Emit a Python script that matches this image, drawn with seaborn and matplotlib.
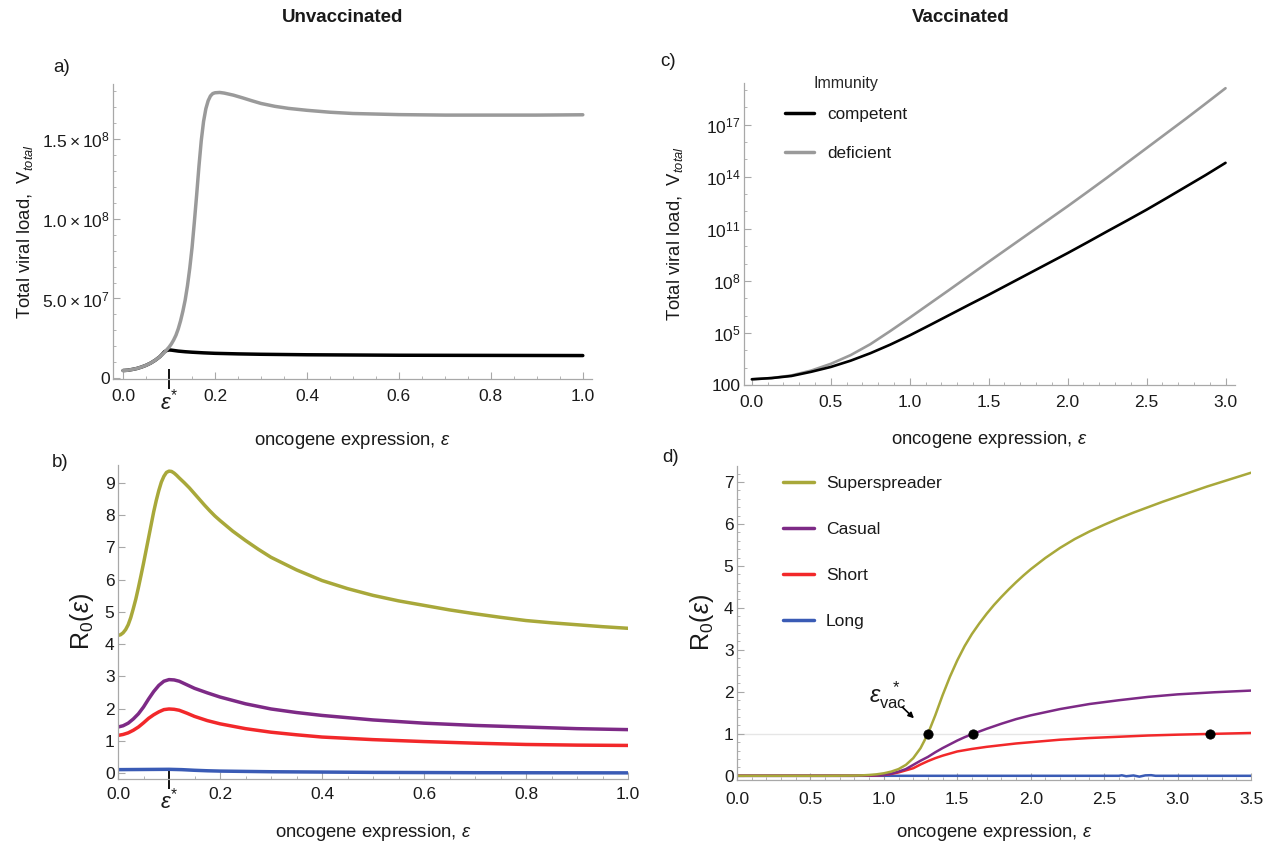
import numpy as np
import matplotlib
matplotlib.use("Agg")
import matplotlib.pyplot as plt
from matplotlib.ticker import FixedLocator, MultipleLocator, FixedFormatter, NullFormatter
from matplotlib.lines import Line2D
import seaborn as sns

# ---------------- data ----------------
# a) unvaccinated total viral load (in millions)
eps_a = [0.0, 0.01, 0.02, 0.03, 0.04, 0.05, 0.06, 0.07, 0.08, 0.085, 0.09, 0.10, 0.105, 0.11,
         0.115, 0.12, 0.125, 0.13, 0.135, 0.14, 0.145, 0.15, 0.155, 0.16, 0.165, 0.17, 0.175,
         0.18, 0.185, 0.19, 0.195, 0.20, 0.21, 0.22, 0.24, 0.26, 0.28, 0.30, 0.33, 0.36, 0.40,
         0.45, 0.50, 0.60, 0.70, 0.80, 0.90, 1.00]
vload_deficient_unvac = [4.8, 5.0, 5.5, 6.1, 7.0, 8.1, 9.5, 11.3, 13.5, 14.8, 16.2, 19.5, 21.5,
                         24, 27, 31, 36, 42, 49, 58, 69, 82, 98, 115, 133, 149, 161, 169, 174,
                         177, 178.5, 179, 179.2, 178.8, 177.5, 175.8, 174, 172.3, 170.5, 169.2,
                         168, 166.8, 166, 165.3, 165, 165, 165, 165.2]
eps_a_comp = [0.0, 0.01, 0.02, 0.03, 0.04, 0.05, 0.06, 0.07, 0.08, 0.085, 0.09, 0.095, 0.10,
              0.105, 0.11, 0.12, 0.135, 0.15, 0.175, 0.20, 0.25, 0.30, 0.40, 0.50, 0.60, 0.80,
              1.00]
vload_competent_unvac = [4.8, 5.0, 5.5, 6.1, 7.0, 8.1, 9.5, 11.3, 13.5, 15.0, 16.6, 17.4, 17.7,
                         17.6, 17.4, 17.0, 16.6, 16.3, 15.9, 15.6, 15.25, 15.0, 14.7, 14.55,
                         14.4, 14.3, 14.2]

# b) unvaccinated R0
eps_b = [0.0, 0.005, 0.01, 0.015, 0.02, 0.025, 0.03, 0.035, 0.04, 0.045, 0.05, 0.055, 0.06,
         0.065, 0.07, 0.075, 0.08, 0.085, 0.09, 0.095, 0.10, 0.105, 0.11, 0.115, 0.12, 0.13,
         0.14, 0.15, 0.16, 0.17, 0.18, 0.19, 0.20, 0.225, 0.25, 0.275, 0.30, 0.35, 0.40, 0.45,
         0.50, 0.55, 0.60, 0.65, 0.70, 0.75, 0.80, 0.85, 0.90, 0.95, 1.00]
r0_superspreader_unvac = [4.27, 4.29, 4.35, 4.45, 4.6, 4.82, 5.1, 5.4, 5.75, 6.12, 6.5, 6.9,
                          7.3, 7.7, 8.1, 8.45, 8.76, 9.02, 9.2, 9.32, 9.36, 9.35, 9.3, 9.23,
                          9.15, 9.0, 8.84, 8.66, 8.48, 8.3, 8.13, 7.97, 7.83, 7.5, 7.21, 6.94,
                          6.69, 6.3, 5.97, 5.72, 5.51, 5.34, 5.2, 5.06, 4.94, 4.83, 4.73, 4.66,
                          4.6, 4.54, 4.49]
eps_b2 = [0.0, 0.01, 0.02, 0.03, 0.04, 0.05, 0.06, 0.07, 0.08, 0.09, 0.10, 0.11, 0.12, 0.135,
          0.15, 0.175, 0.20, 0.25, 0.30, 0.35, 0.40, 0.50, 0.60, 0.70, 0.80, 0.90, 1.00]
r0_casual_unvac = [1.43, 1.47, 1.55, 1.68, 1.84, 2.05, 2.3, 2.53, 2.72, 2.85, 2.9, 2.89, 2.85,
                   2.74, 2.63, 2.49, 2.36, 2.15, 1.99, 1.88, 1.79, 1.65, 1.55, 1.48, 1.43,
                   1.38, 1.35]
r0_short_unvac = [1.17, 1.2, 1.25, 1.33, 1.43, 1.56, 1.7, 1.81, 1.9, 1.97, 1.99, 1.98, 1.95,
                  1.86, 1.76, 1.63, 1.53, 1.38, 1.27, 1.19, 1.12, 1.04, 0.98, 0.93, 0.89,
                  0.87, 0.86]
eps_b_long = [0.0, 0.05, 0.1, 0.125, 0.15, 0.175, 0.2, 0.3, 0.4, 0.5, 0.7, 1.0]
r0_long_unvac = [0.11, 0.115, 0.12, 0.11, 0.09, 0.075, 0.065, 0.045, 0.035, 0.025, 0.015, 0.01]

# c) vaccinated total viral load (log10 values)
eps_c = [0.0, 0.125, 0.25, 0.375, 0.5, 0.625, 0.75, 0.875, 1.0, 1.125, 1.25, 1.375, 1.5,
         1.625, 1.75, 1.875, 2.0, 2.125, 2.25, 2.375, 2.5, 2.625, 2.75, 2.875, 3.0]
log10_vload_competent_vac = [2.33, 2.4, 2.52, 2.76, 3.04, 3.4, 3.83, 4.32, 4.86, 5.44, 6.03,
                             6.62, 7.2, 7.8, 8.4, 9.0, 9.6, 10.22, 10.85, 11.47, 12.1,
                             12.76, 13.43, 14.1, 14.8]
log10_vload_deficient_vac = [2.33, 2.4, 2.55, 2.83, 3.22, 3.72, 4.35, 5.1, 5.88, 6.68, 7.48,
                             8.29, 9.1, 9.9, 10.7, 11.5, 12.3, 13.12, 13.95, 14.8, 15.65,
                             16.5, 17.35, 18.22, 19.1]

# d) vaccinated R0
eps_d_ss = [0.0, 0.6, 0.8, 0.85, 0.9, 0.95, 1.0, 1.05, 1.1, 1.15, 1.2, 1.25, 1.3, 1.35, 1.4,
            1.45, 1.5, 1.55, 1.6, 1.65, 1.7, 1.75, 1.8, 1.85, 1.9, 1.95, 2.0, 2.1, 2.2, 2.3,
            2.4, 2.5, 2.6, 2.7, 2.8, 2.9, 3.0, 3.1, 3.2, 3.3, 3.4, 3.5]
r0_superspreader_vac = [0.0, 0.0, 0.005, 0.01, 0.02, 0.035, 0.06, 0.1, 0.16, 0.26, 0.42, 0.66,
                        1.0, 1.44, 1.92, 2.36, 2.75, 3.09, 3.38, 3.63, 3.86, 4.07, 4.26, 4.44,
                        4.61, 4.77, 4.92, 5.19, 5.43, 5.64, 5.82, 5.98, 6.13, 6.27, 6.4, 6.53,
                        6.65, 6.77, 6.89, 7.0, 7.11, 7.22]
eps_d = [0.0, 0.8, 0.9, 1.0, 1.05, 1.1, 1.15, 1.2, 1.25, 1.3, 1.35, 1.4, 1.45, 1.5, 1.55, 1.6,
         1.7, 1.8, 1.9, 2.0, 2.2, 2.4, 2.6, 2.8, 3.0, 3.25, 3.5]
r0_casual_vac = [0.0, 0.0, 0.005, 0.02, 0.05, 0.1, 0.16, 0.26, 0.36, 0.45, 0.56, 0.66, 0.75,
                 0.84, 0.92, 0.99, 1.12, 1.24, 1.35, 1.44, 1.59, 1.71, 1.8, 1.88, 1.94, 1.99,
                 2.03]
r0_short_vac = [0.0, 0.0, 0.005, 0.02, 0.045, 0.08, 0.13, 0.18, 0.27, 0.35, 0.42, 0.48, 0.53,
                0.58, 0.61, 0.64, 0.69, 0.73, 0.77, 0.8, 0.86, 0.9, 0.93, 0.96, 0.98, 1.0, 1.02]
eps_d_long = [0.0, 1.0, 2.0, 2.6, 2.62, 2.65, 2.7, 2.74, 2.78, 2.82, 2.85, 3.5]
r0_long_vac = [0.0, 0.0, 0.0, 0.0, 0.012, -0.01, 0.008, -0.02, 0.01, 0.015, 0.0, 0.0]
crossing_eps = [1.30, 1.61, 3.22]
crossing_r0 = [1.0, 1.0, 1.0]

x_ticks_unvac = [0.0, 0.1, 0.2, 0.4, 0.6, 0.8, 1.0]
x_ticklabels_unvac = ["0.0", r"$\varepsilon^{*}$", "0.2", "0.4", "0.6", "0.8", "1.0"]
y_ticks_a = [0, 5e7, 1e8, 1.5e8]
y_ticklabels_a = ["0", r"$5.0\times10^{7}$", r"$1.0\times10^{8}$", r"$1.5\times10^{8}$"]
y_ticks_c_exp = [2, 5, 8, 11, 14, 17]
y_ticklabels_c = ["100", r"$10^{5}$", r"$10^{8}$", r"$10^{11}$", r"$10^{14}$", r"$10^{17}$"]

# ---------------- style ----------------
sns.set_theme(style="white")
plt.rcParams['font.family'] = ['Liberation Sans', 'DejaVu Sans']
plt.rcParams['mathtext.fontset'] = 'custom'
plt.rcParams['mathtext.rm'] = 'Liberation Sans'
plt.rcParams['mathtext.it'] = 'Liberation Sans:italic'
plt.rcParams['mathtext.bf'] = 'Liberation Sans:bold'

OLIVE = '#a8a83a'
PURPLE = '#7d2a86'
RED = '#f2282a'
BLUE = '#3a5bb5'
GRAY = '#9a9a9a'
AXC = '#a8a8a8'
TXT = '#1a1a1a'
TICKSIZE = 12.5
LABSIZE = 13.3

W, H = 1270, 852
fig = plt.figure(figsize=(W / 100, H / 100), dpi=100)


def rect(l, r, t, b):
    return [l / W, 1 - b / H, (r - l) / W, (b - t) / H]


def style(ax, xpad, ypad=2.5):
    for s in ['top', 'right']:
        ax.spines[s].set_visible(False)
    for s in ['left', 'bottom']:
        ax.spines[s].set_color(AXC)
        ax.spines[s].set_linewidth(0.9)
    ax.tick_params(which='both', direction='in', color=AXC, labelcolor=TXT, labelsize=TICKSIZE,
                   left=True, bottom=True)
    ax.tick_params(which='major', length=5, width=0.8)
    ax.tick_params(which='minor', length=2.5, width=0.6)
    ax.tick_params(axis='x', pad=xpad)
    ax.tick_params(axis='y', pad=ypad)
    ax.grid(False)


def star_tick(ax):
    t = ax.xaxis.get_major_ticks()[1]
    t.tick1line.set_marker('|')
    t.tick1line.set_markersize(14)
    t.tick1line.set_markeredgewidth(1.3)
    t.tick1line.set_color('black')
    t.tick1line.set_markeredgecolor('black')
    t.label1.set_fontsize(16)


XLAB = r"oncogene expression, $\varepsilon$"
R0LAB = r"R$_0$($\epsilon$)"
VLAB = r"Total viral load,  V$_{total}$"

# ---------------- panel a ----------------
axA = fig.add_axes(rect(113, 592, 84, 379))
sns.lineplot(x=eps_a_comp, y=np.array(vload_competent_unvac) * 1e6, ax=axA, color='black', lw=2.5)
sns.lineplot(x=eps_a, y=np.array(vload_deficient_unvac) * 1e6, ax=axA, color=GRAY, lw=2.5)
axA.set_xlim(-0.022, 1.02)
axA.set_ylim(-0.5e6, 1.845e8)
style(axA, xpad=7)
axA.xaxis.set_major_locator(FixedLocator(x_ticks_unvac))
axA.xaxis.set_major_formatter(FixedFormatter(x_ticklabels_unvac))
axA.xaxis.set_minor_locator(MultipleLocator(0.05))
axA.yaxis.set_major_locator(FixedLocator(y_ticks_a))
axA.yaxis.set_major_formatter(FixedFormatter(y_ticklabels_a))
axA.yaxis.set_minor_locator(MultipleLocator(1e7))
axA.set_xlabel(XLAB, fontsize=LABSIZE, color=TXT)
axA.set_ylabel(VLAB, fontsize=LABSIZE, color=TXT)
axA.xaxis.set_label_coords(0.5, -0.207)
axA.yaxis.set_label_coords(-0.184, 0.5)
axA.yaxis.label.set_verticalalignment('center')
axA.xaxis.label.set_verticalalignment('center')
star_tick(axA)

# ---------------- panel b ----------------
axB = fig.add_axes(rect(118, 628, 465, 779))
sns.lineplot(x=eps_b, y=r0_superspreader_unvac, ax=axB, color=OLIVE, lw=2.5)
sns.lineplot(x=eps_b2, y=r0_casual_unvac, ax=axB, color=PURPLE, lw=2.5)
sns.lineplot(x=eps_b2, y=r0_short_unvac, ax=axB, color=RED, lw=2.5)
sns.lineplot(x=eps_b_long, y=r0_long_unvac, ax=axB, color=BLUE, lw=2.5)
axB.set_xlim(0, 1.0)
axB.set_ylim(-0.18, 9.55)
style(axB, xpad=6)
axB.xaxis.set_major_locator(FixedLocator(x_ticks_unvac))
axB.xaxis.set_major_formatter(FixedFormatter(x_ticklabels_unvac))
axB.xaxis.set_minor_locator(MultipleLocator(0.05))
axB.yaxis.set_major_locator(MultipleLocator(1))
axB.set_xlabel(XLAB, fontsize=LABSIZE, color=TXT)
axB.set_ylabel(R0LAB, fontsize=18, color=TXT)
axB.xaxis.set_label_coords(0.5, -0.169)
axB.yaxis.set_label_coords(-0.07, 0.5)
axB.yaxis.label.set_verticalalignment('center')
axB.xaxis.label.set_verticalalignment('center')
star_tick(axB)

# ---------------- panel c ----------------
axC = fig.add_axes(rect(744, 1235, 83, 385))
axC.set_yscale('log')
sns.lineplot(x=eps_c, y=10.0 ** np.array(log10_vload_deficient_vac), ax=axC, color=GRAY, lw=1.9)
sns.lineplot(x=eps_c, y=10.0 ** np.array(log10_vload_competent_vac), ax=axC, color='black', lw=1.9)
axC.set_xlim(-0.05, 3.06)
axC.set_ylim(10 ** 2, 10 ** 19.4)
style(axC, xpad=7)
axC.xaxis.set_major_locator(MultipleLocator(0.5))
axC.xaxis.set_minor_locator(MultipleLocator(0.1))
axC.xaxis.set_major_formatter(matplotlib.ticker.FormatStrFormatter('%.1f'))
axC.yaxis.set_major_locator(FixedLocator([10.0 ** k for k in y_ticks_c_exp]))
axC.yaxis.set_major_formatter(FixedFormatter(y_ticklabels_c))
axC.yaxis.set_minor_locator(FixedLocator([10.0 ** k for k in range(2, 20)]))
axC.yaxis.set_minor_formatter(NullFormatter())
axC.set_xlabel(XLAB, fontsize=LABSIZE, color=TXT)
axC.set_ylabel(VLAB, fontsize=LABSIZE, color=TXT)
axC.xaxis.set_label_coords(0.5, -0.18)
axC.yaxis.set_label_coords(-0.14, 0.5)
axC.yaxis.label.set_verticalalignment('center')
axC.xaxis.label.set_verticalalignment('center')
legC = axC.legend(handles=[Line2D([], [], color='black', lw=2.5), Line2D([], [], color=GRAY, lw=2.5)],
                  labels=['competent', 'deficient'], title='Immunity', loc='upper left',
                  bbox_to_anchor=(785 / W, 1 - 76 / H), bbox_transform=fig.transFigure,
                  frameon=False, fontsize=12.3, title_fontsize=11.5, handlelength=1.7,
                  handletextpad=0.75, labelspacing=1.4, borderpad=0, borderaxespad=0)
legC._legend_box.sep = 11.5
for t in legC.get_texts():
    t.set_color(TXT)

# ---------------- panel d ----------------
axD = fig.add_axes(rect(737, 1251, 466, 780))
axD.axhline(1, color='#e6e6e6', lw=1, zorder=0)
sns.lineplot(x=eps_d_long, y=r0_long_vac, ax=axD, color=BLUE, lw=1.8)
sns.lineplot(x=eps_d, y=r0_short_vac, ax=axD, color=RED, lw=1.8)
sns.lineplot(x=eps_d, y=r0_casual_vac, ax=axD, color=PURPLE, lw=1.8)
sns.lineplot(x=eps_d_ss, y=r0_superspreader_vac, ax=axD, color=OLIVE, lw=1.8)
sns.scatterplot(x=crossing_eps, y=crossing_r0, ax=axD, color='black', s=45, zorder=5,
                edgecolor='black', legend=False)
axD.set_xlim(0, 3.5)
axD.set_ylim(-0.1, 7.38)
style(axD, xpad=9)
axD.xaxis.set_major_locator(MultipleLocator(0.5))
axD.xaxis.set_minor_locator(MultipleLocator(0.1))
axD.xaxis.set_major_formatter(matplotlib.ticker.FormatStrFormatter('%.1f'))
axD.yaxis.set_major_locator(MultipleLocator(1))
axD.yaxis.set_minor_locator(MultipleLocator(0.2))
axD.set_xlabel(XLAB, fontsize=LABSIZE, color=TXT)
axD.set_ylabel(R0LAB, fontsize=18, color=TXT)
axD.xaxis.set_label_coords(0.5, -0.166)
axD.yaxis.set_label_coords(-0.068, 0.5)
axD.yaxis.label.set_verticalalignment('center')
axD.xaxis.label.set_verticalalignment('center')
axD.text(1.03, 1.93, r"$\varepsilon_{\mathrm{vac}}^{\ \ *}$", fontsize=17, ha='center',
         va='center', color=TXT)
axD.annotate("", xy=(1.205, 1.37), xytext=(1.125, 1.64),
             arrowprops=dict(arrowstyle='-|>', color='black', lw=1.2, mutation_scale=8,
                             shrinkA=0, shrinkB=0))
legD = axD.legend(handles=[Line2D([], [], color=c, lw=2.5) for c in [OLIVE, PURPLE, RED, BLUE]],
                  labels=['Superspreader', 'Casual', 'Short', 'Long'], loc='upper left',
                  bbox_to_anchor=(783 / W, 1 - 476 / H), bbox_transform=fig.transFigure,
                  frameon=False, fontsize=12.6, handlelength=1.75, handletextpad=0.7,
                  labelspacing=1.75, borderpad=0, borderaxespad=0)
for t in legD.get_texts():
    t.set_color(TXT)

# ---------------- titles & panel letters ----------------
fig.text(343 / W, 1 - 18 / H, "Unvaccinated", ha='center', va='center', fontsize=13.5,
         fontweight='bold', color=TXT)
fig.text(961 / W, 1 - 18 / H, "Vaccinated", ha='center', va='center', fontsize=13.5,
         fontweight='bold', color=TXT)
for lab, (px, py) in {"a)": (62, 67), "b)": (60, 462), "c)": (668, 62), "d)": (671, 458)}.items():
    fig.text(px / W, 1 - py / H, lab, ha='center', va='center', fontsize=13.5, color=TXT)

fig.savefig("out.png", dpi=100, facecolor='white')
